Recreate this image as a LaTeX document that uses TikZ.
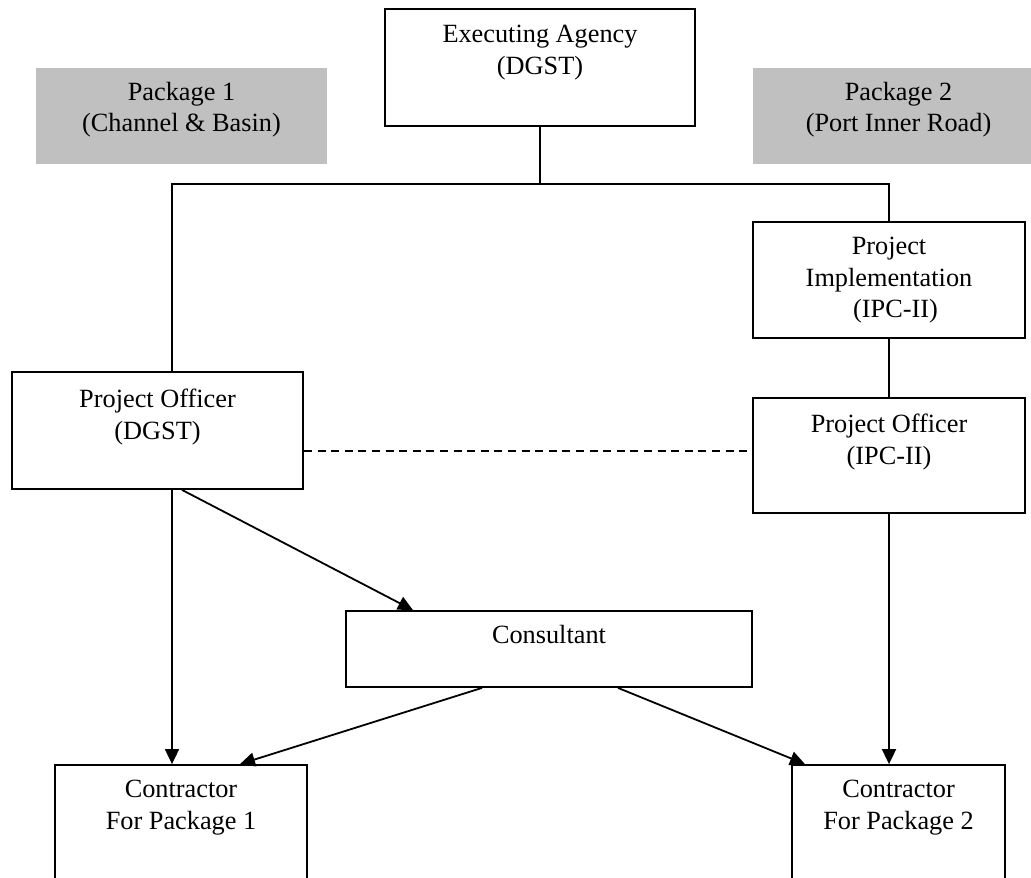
\documentclass[tikz,border=0pt]{standalone}
\usepackage{fontspec}
\setmainfont{Liberation Serif}
\usetikzlibrary{arrows.meta}
\definecolor{pkggray}{RGB}{192,192,192}
\begin{document}
\begin{tikzpicture}[x=1pt,y=-1pt,
  box/.style={draw, line width=1.8pt, inner sep=0pt, fill=white},
  pkg/.style={fill=pkggray, inner sep=0pt},
  txt/.style={font=\fontsize{26.3}{31.5}\selectfont, align=center, inner sep=0pt, anchor=north},
  conn/.style={line width=1.8pt},
  arr/.style={conn, -{Triangle[length=15pt,width=14pt]}},
  dashconn/.style={line width=1.8pt, dash pattern=on 8pt off 5.6pt},
]
\useasboundingbox (0,0) rectangle (1031,878);
\clip (0,0) rectangle (1031,878);

% boxes
\node[box, minimum width=310pt, minimum height=117pt] (exec) at (540,67.5) {};
\node[pkg, minimum width=291pt, minimum height=96pt] (pkg1) at (181.5,116) {};
\node[pkg, minimum width=291pt, minimum height=96pt] (pkg2) at (898.5,116) {};
\node[box, minimum width=272pt, minimum height=116pt] (impl) at (889,280) {};
\node[box, minimum width=291pt, minimum height=117pt] (po1) at (157.5,430.5) {};
\node[box, minimum width=272pt, minimum height=115pt] (po2) at (889,455.5) {};
\node[box, minimum width=406pt, minimum height=76pt] (cons) at (549,649) {};
\node[box, minimum width=252pt, minimum height=140pt] (con1) at (181,835) {};
\node[box, minimum width=213pt, minimum height=140pt] (con2) at (898.5,835) {};

% texts
\node[txt] (exect) at (540,25) {Executing Agency\\(DGST)};
\node[txt] (pkg1t) at (181.5,82) {Package 1\\(Channel \& Basin)};
\node[txt] (pkg2t) at (898.5,82) {Package 2\\(Port Inner Road)};
\node[txt] (implt) at (889,237) {Project\\Implementation\\\hspace*{0.5em}(IPC-II)};
\node[txt] (po1t) at (157.5,389) {Project Officer\\(DGST)};
\node[txt] (po2t) at (889,414) {Project Officer\\(IPC-II)};
\node[txt] (const) at (549,625) {Consultant};
\node[txt] (con1t) at (181,780) {Contractor\\For Package 1};
\node[txt] (con2t) at (898.5,780) {Contractor\\For Package 2};

% junction coordinates
\coordinate (jl) at (172,184);
\coordinate (jr) at (889,184);
\coordinate (dl) at (0,451);

% connectors
\draw[conn] (exec.south) -- (exec.south |- jl);
\draw[conn] (jl |- po1.north) -- (jl) -- (jr) -- (impl.north);
\draw[conn] (impl.south) -- (po2.north);
\draw[dashconn] (po1.east |- dl) -- (po2.west |- dl);
\draw[arr] (po1.south -| jl) -- (con1.north -| jl);
\draw[arr] ([xshift=24.5pt]po1.south) -- ([xshift=-136pt]cons.north);
\draw[arr] ([xshift=-67pt]cons.south) -- ([xshift=59pt]con1.north);
\draw[arr] ([xshift=69pt]cons.south) -- ([xshift=-93.5pt]con2.north);
\draw[arr] (po2.south) -- (po2.south |- con2.north);
\end{tikzpicture}
\end{document}
